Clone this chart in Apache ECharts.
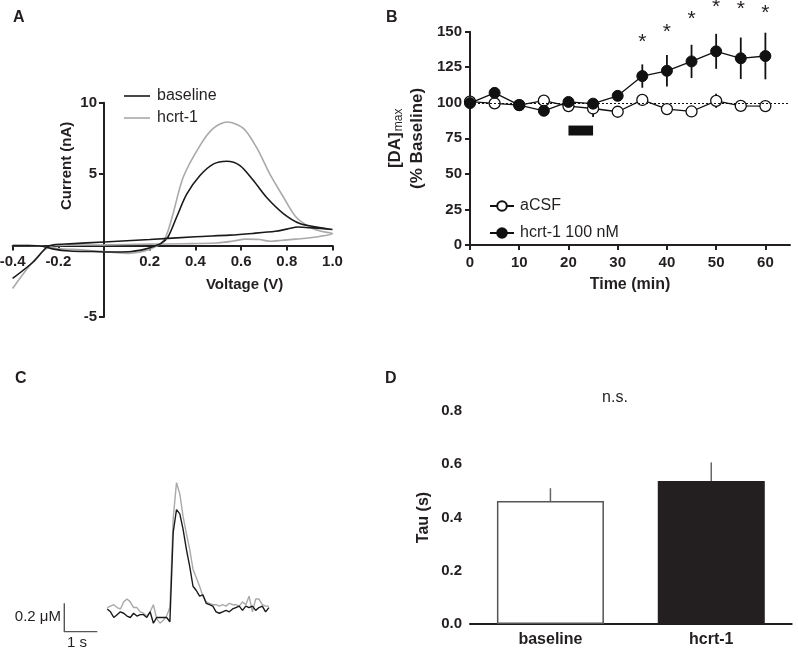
<!DOCTYPE html>
<html>
<head>
<meta charset="utf-8">
<script src="https://cdn.jsdelivr.net/npm/echarts@6/dist/echarts.min.js"></script>
<style>
  html, body { margin: 0; padding: 0; background: #fff; }
  #chart { width: 798px; height: 651px; }
</style>
</head>
<body>
<div id="chart"></div>
<script>
// A: voltammograms, [voltage V, current nA], forward sweep then return sweep
const cvBaseline = [
  [-0.4, 0.0], [-0.33, 0.0], [-0.27, -0.05], [-0.22, -0.25], [-0.15, -0.38], [-0.05, -0.42],
  [0.05, -0.45], [0.12, -0.42], [0.18, -0.25], [0.22, -0.05], [0.25, 0.15], [0.28, 0.6],
  [0.318, 2.0], [0.362, 3.6], [0.42, 4.9], [0.478, 5.7], [0.537, 5.9], [0.595, 5.6],
  [0.653, 4.57], [0.71, 3.4], [0.785, 2.24], [0.857, 1.54], [0.93, 1.3], [1.0, 1.12],
  [0.95, 1.2], [0.9, 1.25], [0.85, 1.3], [0.8, 1.15], [0.75, 1.0], [0.65, 0.85],
  [0.55, 0.73], [0.4, 0.62], [0.2, 0.42], [0.0, 0.25], [-0.15, 0.12], [-0.22, 0.05],
  [-0.25, -0.1], [-0.31, -1.15], [-0.4, -2.3]
];
const cvHcrt = [
  [-0.4, 0.0], [-0.33, 0.0], [-0.27, -0.05], [-0.2, -0.2], [-0.1, -0.3], [0.0, -0.42],
  [0.1, -0.55], [0.16, -0.45], [0.2, -0.25], [0.24, 0.05], [0.27, 0.6], [0.3, 2.1],
  [0.347, 4.8], [0.42, 7.0], [0.478, 8.2], [0.54, 8.65], [0.61, 8.2], [0.67, 6.8],
  [0.726, 5.0], [0.785, 3.4], [0.84, 2.0], [0.9, 1.3], [0.95, 1.0], [1.0, 0.84],
  [0.93, 0.6], [0.84, 0.45], [0.78, 0.37], [0.73, 0.3], [0.68, 0.42], [0.62, 0.45],
  [0.56, 0.3], [0.49, 0.18], [0.35, 0.13], [0.2, 0.1], [0.0, 0.05], [-0.15, 0.03],
  [-0.22, 0.0], [-0.26, -0.3], [-0.33, -1.5], [-0.4, -3.0]
];

// B: [DA]max, % baseline
const timeMin = [0, 5, 10, 15, 20, 25, 30, 35, 40, 45, 50, 55, 60];
const acsfMean = [100.8, 99.6, 98.4, 101.5, 97.7, 96.0, 93.7, 102.0, 95.6, 93.9, 101.4, 97.8, 97.7];
const acsfSem = [0, 0, 0, 0, 2, 6, 2, 4, 0, 0, 5, 0, 0];
const hcrtMean = [99.8, 107.0, 98.4, 94.4, 100.6, 99.4, 104.9, 118.8, 122.5, 129.1, 136.2, 131.3, 132.9];
const hcrtSem = [0, 0, 0, 0, 3, 0, 0, 8.2, 11.1, 11.7, 12.3, 14.6, 16.4];
const starTimes = [35, 40, 45, 50, 55, 60];
const starLevels = [145.3, 152.8, 161.7, 170.0, 168.3, 166.0];
const infusionTime = [20, 25];
const infusionLevel = [77, 84];

// C: example traces, time s, concentration uM
const traceTime = [
  0.0, 0.1, 0.2, 0.3, 0.4, 0.5, 0.6, 0.7, 0.8, 0.9, 1.0, 1.1, 1.2, 1.3, 1.4, 1.5, 1.6,
  1.7, 1.8, 1.9, 2.0, 2.1, 2.2, 2.3, 2.4, 2.5, 2.6, 2.7, 2.8, 2.9, 3.0, 3.1, 3.2, 3.3,
  3.4, 3.5, 3.6, 3.7, 3.8, 3.9, 4.0, 4.1, 4.2, 4.3, 4.4, 4.5, 4.6, 4.7, 4.8, 4.9
];
const traceBaseline = [
  0.16, 0.14, 0.10, 0.12, 0.14, 0.13, 0.11, 0.10, 0.13, 0.11, 0.12, 0.12, 0.10, 0.14,
  0.06, 0.10, 0.10, 0.10, 0.10, 0.07, 0.70, 0.86, 0.83, 0.72, 0.58, 0.46, 0.32, 0.29,
  0.25, 0.26, 0.20, 0.19, 0.18, 0.14, 0.13, 0.14, 0.15, 0.14, 0.16, 0.17, 0.18, 0.15,
  0.18, 0.17, 0.18, 0.15, 0.17, 0.18, 0.14, 0.17
];
const traceHcrt = [
  0.17, 0.18, 0.19, 0.17, 0.16, 0.21, 0.23, 0.21, 0.17, 0.17, 0.14, 0.13, 0.11, 0.14,
  0.19, 0.09, 0.06, 0.08, 0.11, 0.17, 0.80, 1.05, 0.97, 0.81, 0.69, 0.58, 0.44, 0.38,
  0.32, 0.25, 0.21, 0.20, 0.19, 0.19, 0.18, 0.19, 0.18, 0.20, 0.19, 0.19, 0.18, 0.21,
  0.19, 0.25, 0.14, 0.23, 0.23, 0.19, 0.18, 0.18
];
const scaleBarTime = [-1.3, -1.3, -0.3];
const scaleBarConc = [0.2, 0, 0];

// D: tau
const tauGroups = ['baseline', 'hcrt-1'];
const tauMean = [0.462, 0.537];
const tauSem = [0.048, 0.07];

const FONT = '"Liberation Sans", Arial, Helvetica, sans-serif';
const INK = '#231f20';

function tickStyle() {
  return { length: 5, lineStyle: { color: INK, width: 2 } };
}
function labelStyle(size, extra) {
  return Object.assign({ color: INK, fontSize: size, fontWeight: 'bold', fontFamily: FONT }, extra);
}

// vertical error bars as a custom series
function errorBars(xs, lows, highs, axisIndex, color, width) {
  return {
    type: 'custom',
    xAxisIndex: axisIndex,
    yAxisIndex: axisIndex,
    silent: true,
    z: 1,
    encode: { x: 0, y: [1, 2] },
    data: xs.map((x, i) => [x, lows[i], highs[i]]),
    renderItem(params, api) {
      const lo = api.coord([api.value(0), api.value(1)]);
      const hi = api.coord([api.value(0), api.value(2)]);
      return {
        type: 'line',
        shape: { x1: lo[0], y1: lo[1], x2: hi[0], y2: hi[1] },
        style: { stroke: color, lineWidth: width }
      };
    }
  };
}

// panel A axes cross at zero: shift them in from the grid edges
const A_LEFT = 12.6, A_WIDTH = 319.9, A_TOP = 102.7, A_HEIGHT = 214.3;
const aYOffset = -A_WIDTH * (0 - -0.4) / (1.0 - -0.4);
const aXOffset = -A_HEIGHT * (0 - -5) / (10 - -5);

const chart = echarts.init(document.getElementById('chart'), null, { renderer: 'canvas' });
chart.setOption({
  animation: false,
  backgroundColor: '#fff',
  textStyle: { fontFamily: FONT },
  grid: [
    { left: A_LEFT, top: A_TOP, width: A_WIDTH, height: A_HEIGHT, outerBoundsMode: 'none' },
    { left: 470, top: 31.7, width: 320, height: 213.3, outerBoundsMode: 'none' },
    { left: 57.7, top: 461.3, width: 214.5, height: 170.4, outerBoundsMode: 'none' },
    { left: 470, top: 411, width: 321.7, height: 213, outerBoundsMode: 'none' }
  ],
  legend: [
    {
      data: ['baseline', 'hcrt-1'],
      orient: 'vertical', left: 119, top: 83,
      icon: 'rect', itemWidth: 26, itemHeight: 1.6, itemGap: 6,
      textStyle: { fontSize: 16, color: INK, fontFamily: FONT, padding: [0, 0, 0, 2] }
    },
    {
      data: ['aCSF', 'hcrt-1 100 nM'],
      orient: 'vertical', left: 484, top: 193,
      itemWidth: 24, itemHeight: 12, itemGap: 11,
      textStyle: { fontSize: 16, color: INK, fontFamily: FONT, padding: [0, 0, 0, 1] }
    }
  ],
  xAxis: [
    {
      gridIndex: 0, type: 'value', min: -0.4, max: 1.0, interval: 0.2,
      position: 'bottom', offset: aXOffset,
      axisLine: { onZero: false, lineStyle: { color: INK, width: 2 } },
      axisTick: tickStyle(),
      axisLabel: labelStyle(15, {
        margin: 9,
        formatter: v => (Math.abs(v) < 1e-9 ? '' : v.toFixed(1))
      }),
      splitLine: { show: false },
      name: 'Voltage (V)', nameLocation: 'middle', nameGap: 32, nameMoveOverlap: false,
      nameTextStyle: labelStyle(15, { padding: [0, 0, 0, 144] })
    },
    {
      gridIndex: 1, type: 'value', min: 0, max: 65, interval: 10,
      axisLine: { lineStyle: { color: INK, width: 2 } },
      axisTick: Object.assign(tickStyle(), { customValues: timeMin.filter(t => t % 10 === 0) }),
      axisLabel: labelStyle(15, { margin: 10, customValues: timeMin.filter(t => t % 10 === 0) }),
      splitLine: { show: false },
      name: 'Time (min)', nameLocation: 'middle', nameGap: 32, nameMoveOverlap: false,
      nameTextStyle: labelStyle(16)
    },
    { gridIndex: 2, type: 'value', min: -1.5, max: 5, show: false },
    {
      gridIndex: 3, type: 'category', data: tauGroups,
      axisLine: { lineStyle: { color: INK, width: 2 } },
      axisTick: Object.assign(tickStyle(), { alignWithLabel: true }),
      axisLabel: labelStyle(16, { margin: 8 }),
      splitLine: { show: false }
    }
  ],
  yAxis: [
    {
      gridIndex: 0, type: 'value', min: -5, max: 10, interval: 5,
      position: 'left', offset: aYOffset,
      axisLine: { onZero: false, lineStyle: { color: INK, width: 2 } },
      axisTick: tickStyle(),
      axisLabel: labelStyle(15, { margin: 7, formatter: v => (v === 0 ? '' : String(v)) }),
      splitLine: { show: false },
      name: 'Current (nA)', nameLocation: 'middle', nameGap: 30, nameMoveOverlap: false,
      nameTextStyle: labelStyle(15, { padding: [0, 0, 0, 88] })
    },
    {
      gridIndex: 1, type: 'value', min: 0, max: 150, interval: 25,
      axisLine: { lineStyle: { color: INK, width: 2 } },
      axisTick: tickStyle(),
      axisLabel: labelStyle(15, { margin: 8 }),
      splitLine: { show: false },
      name: '{t|[DA]}{s|max}\n{t|(% Baseline)}',
      nameLocation: 'middle', nameGap: 42, nameMoveOverlap: false,
      nameTextStyle: {
        color: INK,
        rich: {
          t: { fontSize: 17, fontWeight: 'bold', fontFamily: FONT, color: INK, lineHeight: 22 },
          s: { fontSize: 12, fontFamily: FONT, color: INK, padding: [7, 0, 0, 1] }
        }
      }
    },
    { gridIndex: 2, type: 'value', min: 0, max: 1.2, show: false },
    {
      gridIndex: 3, type: 'value', min: 0, max: 0.8, interval: 0.2,
      axisLine: { lineStyle: { color: INK, width: 2 } },
      axisTick: tickStyle(),
      axisLabel: labelStyle(15, { margin: 8, formatter: v => v.toFixed(1) }),
      splitLine: { show: false },
      name: 'Tau (s)', nameLocation: 'middle', nameGap: 38, nameMoveOverlap: false,
      nameTextStyle: labelStyle(16)
    }
  ],
  series: [
    // A
    {
      name: 'hcrt-1', type: 'line', xAxisIndex: 0, yAxisIndex: 0,
      data: cvHcrt, smooth: 0.3, symbol: 'none',
      lineStyle: { color: '#a9a9a9', width: 1.6 }, itemStyle: { color: '#a9a9a9' }
    },
    {
      name: 'baseline', type: 'line', xAxisIndex: 0, yAxisIndex: 0,
      data: cvBaseline, smooth: 0.3, symbol: 'none',
      lineStyle: { color: '#1a1a1a', width: 1.6 }, itemStyle: { color: '#1a1a1a' }
    },
    // B
    errorBars(timeMin, acsfMean.map((m, i) => m - acsfSem[i]), acsfMean.map((m, i) => m + acsfSem[i]), 1, '#111', 1.8),
    errorBars(timeMin, hcrtMean.map((m, i) => m - hcrtSem[i]), hcrtMean.map((m, i) => m + hcrtSem[i]), 1, '#111', 1.8),
    {
      name: 'aCSF', type: 'line', xAxisIndex: 1, yAxisIndex: 1,
      data: timeMin.map((t, i) => [t, acsfMean[i]]),
      symbol: 'circle', symbolSize: 11, z: 3,
      lineStyle: { color: '#111', width: 1.3 },
      itemStyle: { color: '#fff', borderColor: '#111', borderWidth: 1.3 },
      markLine: {
        silent: true, symbol: ['none', 'none'], label: { show: false },
        lineStyle: { color: '#111', width: 1, type: [2, 2] },
        data: [{ yAxis: 100 }]
      }
    },
    {
      name: 'hcrt-1 100 nM', type: 'line', xAxisIndex: 1, yAxisIndex: 1,
      data: timeMin.map((t, i) => [t, hcrtMean[i]]),
      symbol: 'circle', symbolSize: 11, z: 4,
      lineStyle: { color: '#111', width: 1.3 },
      itemStyle: { color: '#111', borderColor: '#111', borderWidth: 1 },
      markArea: {
        silent: true,
        itemStyle: { color: '#111', opacity: 1 },
        data: [[{ coord: [infusionTime[0], infusionLevel[1]] }, { coord: [infusionTime[1], infusionLevel[0]] }]]
      }
    },
    {
      type: 'custom', xAxisIndex: 1, yAxisIndex: 1, silent: true, clip: false, z: 5,
      data: starTimes.map((t, i) => [t, starLevels[i]]),
      renderItem(params, api) {
        const p = api.coord([api.value(0), api.value(1)]);
        return {
          type: 'text', x: p[0], y: p[1] + 4,
          style: { text: '*', fontSize: 21, fontFamily: FONT, fill: INK, align: 'center', verticalAlign: 'middle' }
        };
      }
    },
    // C
    {
      name: 'scale', type: 'line', xAxisIndex: 2, yAxisIndex: 2,
      data: scaleBarTime.map((t, i) => [t, scaleBarConc[i]]),
      symbol: 'none', lineStyle: { color: '#555', width: 1.4 }
    },
    {
      name: 'hcrt-1 trace', type: 'line', xAxisIndex: 2, yAxisIndex: 2,
      data: traceTime.map((t, i) => [t, traceHcrt[i]]),
      symbol: 'none', lineStyle: { color: '#a9a9a9', width: 1.4 }
    },
    {
      name: 'baseline trace', type: 'line', xAxisIndex: 2, yAxisIndex: 2,
      data: traceTime.map((t, i) => [t, traceBaseline[i]]),
      symbol: 'none', lineStyle: { color: '#1a1a1a', width: 1.4 }
    },
    // D
    {
      name: 'tau', type: 'bar', xAxisIndex: 3, yAxisIndex: 3, barWidth: 107,
      data: [
        { value: tauMean[0], itemStyle: { color: '#fff', borderColor: '#555', borderWidth: 1.5 } },
        { value: tauMean[1], itemStyle: { color: INK } }
      ]
    },
    Object.assign(errorBars(tauGroups, tauMean, tauMean.map((m, i) => m + tauSem[i]), 3, '#666', 1.5), { z: 3 })
  ],
  graphic: [
    { type: 'text', x: 13, y: 10, style: { text: 'A', fontSize: 16, fontWeight: 'bold', fontFamily: FONT, fill: INK } },
    { type: 'text', x: 386, y: 10, style: { text: 'B', fontSize: 16, fontWeight: 'bold', fontFamily: FONT, fill: INK } },
    { type: 'text', x: 15, y: 371, style: { text: 'C', fontSize: 16, fontWeight: 'bold', fontFamily: FONT, fill: INK } },
    { type: 'text', x: 385, y: 371, style: { text: 'D', fontSize: 16, fontWeight: 'bold', fontFamily: FONT, fill: INK } },
    { type: 'text', x: 615, y: 398, style: { text: 'n.s.', fontSize: 16, fontFamily: FONT, fill: INK, align: 'center', verticalAlign: 'middle' } },
    { type: 'text', x: 61, y: 617, style: { text: '0.2 μM', fontSize: 15, fontFamily: FONT, fill: INK, align: 'right', verticalAlign: 'middle' } },
    { type: 'text', x: 77, y: 643, style: { text: '1 s', fontSize: 15, fontFamily: FONT, fill: INK, align: 'center', verticalAlign: 'middle' } }
  ]
});
</script>
</body>
</html>
